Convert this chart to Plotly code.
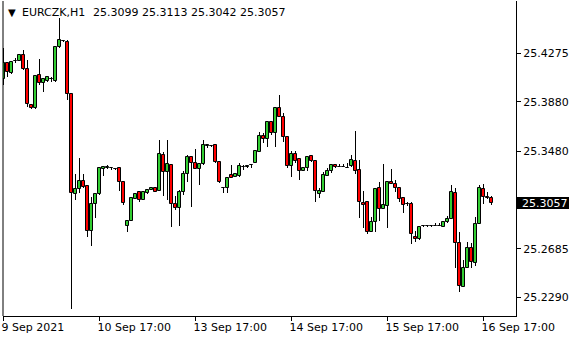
import plotly.graph_objects as go

symbol = "EURCZK,H1"

opens = [25.4066, 25.4194, 25.4117, 25.4208, 25.4212, 25.4261, 25.4147, 25.3852, 25.3826, 25.4096,
         25.4036, 25.4052, 25.4062, 25.4052, 25.4324, 25.4378, 25.4369, 25.3941, 25.3133, 25.3169,
         25.3236, 25.3193, 25.2832, 25.3047, 25.3128, 25.3336, 25.3345, 25.3339, 25.3336, 25.3339,
         25.3226, 25.2873, 25.2913, 25.3087, 25.3144, 25.3082, 25.3141, 25.3163, 25.3177, 25.3157,
         25.3448, 25.3312, 25.3363, 25.3047, 25.3014, 25.3144, 25.3291, 25.3429, 25.3380, 25.3331,
         25.3372, 25.3523, 25.3523, 25.3529, 25.3388, 25.3177, 25.3177, 25.3285, 25.3266, 25.3279,
         25.3346, 25.3353, 25.3365, 25.3385, 25.3474, 25.3602, 25.3575, 25.3714, 25.3624, 25.3828,
         25.3760, 25.3597, 25.3361, 25.3453, 25.3412, 25.3320, 25.3339, 25.3440, 25.3397, 25.3130,
         25.3149, 25.3279, 25.3320, 25.3366, 25.3351, 25.3350, 25.3345, 25.3361, 25.3399, 25.3326,
         25.3061, 25.3068, 25.2824, 25.2900, 25.3177, 25.3006, 25.3036, 25.3228, 25.3210, 25.3177,
         25.3095, 25.3046, 25.3048, 25.2783, 25.2764, 25.2869, 25.2870, 25.2871, 25.2872, 25.2873,
         25.2865, 25.2903, 25.2927, 25.3136, 25.2729, 25.2376, 25.2526, 25.2689, 25.2572, 25.2884,
         25.3169, 25.3103, 25.3099]
highs = [25.4316, 25.4207, 25.4212, 25.4237, 25.4269, 25.4302, 25.4221, 25.3854, 25.4096, 25.4229,
         25.4066, 25.4083, 25.4081, 25.4334, 25.4560, 25.4381, 25.4383, 25.3942, 25.3293, 25.3421,
         25.3293, 25.3194, 25.3104, 25.3139, 25.3344, 25.3358, 25.3364, 25.3347, 25.3342, 25.3342,
         25.3228, 25.2911, 25.3100, 25.3130, 25.3147, 25.3157, 25.3174, 25.3180, 25.3180, 25.3570,
         25.3470, 25.3570, 25.3374, 25.3117, 25.3163, 25.3318, 25.3448, 25.3434, 25.3496, 25.3374,
         25.3570, 25.3527, 25.3525, 25.3530, 25.3390, 25.3180, 25.3271, 25.3366, 25.3293, 25.3380,
         25.3366, 25.3366, 25.3374, 25.3481, 25.3631, 25.3624, 25.3727, 25.3727, 25.3836, 25.3936,
         25.3787, 25.3598, 25.3483, 25.3483, 25.3415, 25.3346, 25.3432, 25.3441, 25.3398, 25.3178,
         25.3307, 25.3339, 25.3374, 25.3374, 25.3372, 25.3372, 25.3380, 25.3448, 25.3643, 25.3407,
         25.3157, 25.3069, 25.2946, 25.3172, 25.3230, 25.3374, 25.3230, 25.3334, 25.3244, 25.3190,
         25.3098, 25.3067, 25.3068, 25.2829, 25.2870, 25.2882, 25.2882, 25.2882, 25.2894, 25.2897,
         25.2906, 25.2951, 25.3203, 25.3177, 25.2824, 25.2594, 25.2742, 25.2729, 25.2946, 25.3204,
         25.3212, 25.3149, 25.3113]
lows = [25.4017, 25.4085, 25.4107, 25.4192, 25.4208, 25.4139, 25.3841, 25.3818, 25.3824, 25.4017,
        25.3963, 25.4045, 25.4045, 25.4044, 25.4318, 25.4373, 25.3895, 25.2199, 25.3082, 25.3141,
        25.3182, 25.2783, 25.2710, 25.2938, 25.3122, 25.3279, 25.3334, 25.3331, 25.3328, 25.3157,
        25.3041, 25.2821, 25.2908, 25.3086, 25.3068, 25.3081, 25.3128, 25.3159, 25.3143, 25.3156,
        25.3114, 25.3082, 25.2864, 25.3000, 25.2873, 25.3122, 25.3230, 25.3027, 25.3331, 25.3204,
        25.3366, 25.3502, 25.3517, 25.3383, 25.3220, 25.3135, 25.3135, 25.3262, 25.3265, 25.3271,
        25.3326, 25.3339, 25.3340, 25.3384, 25.3473, 25.3543, 25.3510, 25.3610, 25.3515, 25.3759,
        25.3556, 25.3339, 25.3271, 25.3385, 25.3244, 25.3319, 25.3319, 25.3394, 25.3063, 25.3100,
        25.3148, 25.3277, 25.3299, 25.3345, 25.3349, 25.3348, 25.3343, 25.3353, 25.3293, 25.2933,
        25.2851, 25.2805, 25.2819, 25.2824, 25.2913, 25.3005, 25.2856, 25.3209, 25.3149, 25.3068,
        25.2973, 25.3029, 25.2721, 25.2739, 25.2756, 25.2862, 25.2862, 25.2864, 25.2872, 25.2871,
        25.2864, 25.2897, 25.2926, 25.2526, 25.2336, 25.2375, 25.2525, 25.2526, 25.2545, 25.2883,
        25.3047, 25.3087, 25.3042]
closes = [25.4199, 25.4120, 25.4207, 25.4214, 25.4261, 25.4145, 25.3860, 25.3826, 25.4090, 25.4031,
          25.4063, 25.4080, 25.4064, 25.4324, 25.4383, 25.4377, 25.3941, 25.3136, 25.3169, 25.3236,
          25.3190, 25.2832, 25.3047, 25.3128, 25.3339, 25.3350, 25.3346, 25.3340, 25.3337, 25.3230,
          25.3060, 25.2908, 25.3095, 25.3128, 25.3082, 25.3144, 25.3163, 25.3177, 25.3144, 25.3456,
          25.3312, 25.3374, 25.3047, 25.3019, 25.3144, 25.3293, 25.3429, 25.3380, 25.3332, 25.3372,
          25.3529, 25.3525, 25.3524, 25.3388, 25.3226, 25.3176, 25.3258, 25.3263, 25.3291, 25.3358,
          25.3349, 25.3355, 25.3366, 25.3478, 25.3600, 25.3575, 25.3714, 25.3629, 25.3828, 25.3760,
          25.3597, 25.3361, 25.3453, 25.3401, 25.3320, 25.3342, 25.3429, 25.3395, 25.3155, 25.3155,
          25.3285, 25.3318, 25.3366, 25.3348, 25.3350, 25.3349, 25.3344, 25.3407, 25.3320, 25.3068,
          25.3044, 25.2819, 25.2900, 25.3171, 25.3006, 25.3039, 25.3226, 25.3210, 25.3177, 25.3087,
          25.3042, 25.3048, 25.2805, 25.2764, 25.2860, 25.2872, 25.2872, 25.2873, 25.2873, 25.2872,
          25.2905, 25.2927, 25.3144, 25.2729, 25.2384, 25.2526, 25.2689, 25.2580, 25.2886, 25.3177,
          25.3103, 25.3098, 25.3057]

tick_bars = [0, 24, 48, 72, 96, 120]
tick_labels = ["9 Sep 2021", "10 Sep 17:00", "13 Sep 17:00", "14 Sep 17:00",
               "15 Sep 17:00", "16 Sep 17:00"]
price_ticks = [25.4275, 25.3880, 25.3480, 25.2685, 25.2290]

FONT = "DejaVu Sans"
UP, DOWN = "#32CD32", "#FF0000"
bars = list(range(len(opens)))

# wicks (drawn first, behind bodies)
wick = go.Bar(
    x=bars, base=lows, y=[h - l for h, l in zip(highs, lows)], width=0.25,
    marker=dict(color="black", line=dict(width=0)), hoverinfo="skip", showlegend=False,
)
# bodies
body = go.Bar(
    x=bars, base=[min(o, c) for o, c in zip(opens, closes)],
    y=[abs(c - o) for o, c in zip(opens, closes)], width=0.72,
    marker=dict(color=[UP if c >= o else DOWN for o, c in zip(opens, closes)],
                line=dict(color="black", width=1)),
    hoverinfo="skip", showlegend=False,
)
fig = go.Figure([wick, body])

y_lo, y_hi = 25.2138, 25.4700
plot_h = 340 - 1 - 24
per_px = (y_hi - y_lo) / plot_h

fig.update_layout(
    width=580, height=340,
    margin=dict(l=3, r=64, t=1, b=24),
    paper_bgcolor="white", plot_bgcolor="white",
    barmode="overlay", bargap=0, bargroupgap=0,
    showlegend=False,
    font=dict(family=FONT, size=11, color="black"),
    xaxis=dict(
        range=[-0.125, 128.125], showgrid=False, zeroline=False,
        showline=True, linecolor="black", linewidth=1,
        ticks="outside", ticklen=4, tickcolor="black", tickwidth=1,
        tickvals=tick_bars, ticktext=tick_labels,
        ticklabelposition="outside right", ticklabelshift=-3, ticklabelstandoff=1,
        tickfont=dict(family=FONT, size=11, color="black"),
        fixedrange=True,
    ),
    yaxis=dict(
        side="right", range=[y_lo, y_hi], showgrid=False, zeroline=False,
        showline=True, linecolor="black", linewidth=1,
        ticks="outside", ticklen=4, tickcolor="black", tickwidth=1,
        tickvals=price_ticks, ticktext=[f"{v:.4f}" for v in price_ticks],
        tickfont=dict(family=FONT, size=11, color="black"),
        fixedrange=True,
    ),
)

# left frame line
fig.add_shape(type="line", xref="paper", yref="paper", x0=0, x1=0, y0=0, y1=1,
              line=dict(color="black", width=1))

# current price label
last = closes[-1]
fig.add_shape(type="rect", xref="paper", yref="y",
              x0=1.0, x1=1 + 53 / 513, y0=last - 6 * per_px, y1=last + 6 * per_px,
              fillcolor="black", line=dict(width=0), layer="above")
fig.add_annotation(xref="paper", yref="y", x=1, y=last, xanchor="left", yanchor="middle",
                   xshift=4, text=f"{last:.4f}", showarrow=False,
                   font=dict(family=FONT, size=11, color="white"))

# header
hdr_y = 1 - (12.5 - 1) / plot_h
fig.add_annotation(xref="paper", yref="paper", x=0, y=hdr_y, xanchor="left", yanchor="middle",
                   xshift=3, text="▼", showarrow=False, font=dict(family=FONT, size=10, color="black"))
fig.add_annotation(xref="paper", yref="paper", x=0, y=hdr_y, xanchor="left", yanchor="middle",
                   xshift=17, text=symbol, showarrow=False, font=dict(family=FONT, size=11, color="black"))
fig.add_annotation(xref="paper", yref="paper", x=0, y=hdr_y, xanchor="left", yanchor="middle",
                   xshift=88, text=" ".join(f"{v:.4f}" for v in [opens[-1], highs[-1], lows[-1], closes[-1]]),
                   showarrow=False, font=dict(family=FONT, size=11, color="black"))

fig.write_html("out.html")
